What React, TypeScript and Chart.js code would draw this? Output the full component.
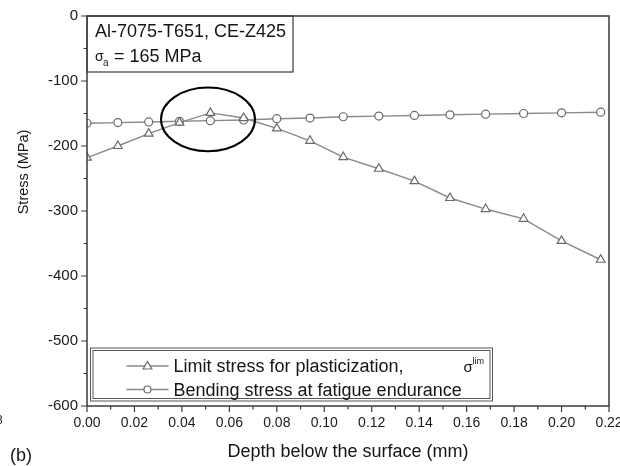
import { useEffect, useRef } from 'react';
import { Chart, registerables } from 'chart.js';

Chart.register(...registerables);

// ---- data ----
const depth = [0, 0.013, 0.026, 0.039, 0.052, 0.066, 0.080, 0.094, 0.108, 0.123, 0.138, 0.153, 0.168, 0.184, 0.200, 0.2165];
const limitStress = [-218, -200, -181, -164, -149, -157, -173, -192, -217, -235, -254, -280, -297, -312, -346, -375];
const bendingStress = [-165, -164, -163, -162, -161, -160, -158, -157, -155, -154, -153, -152, -151, -150, -149, -148];

const xTicks = [0, 0.02, 0.04, 0.06, 0.08, 0.1, 0.12, 0.14, 0.16, 0.18, 0.2, 0.22];
const yTicks = [0, -100, -200, -300, -400, -500, -600];

const seriesNames = ['Limit stress for plasticization,', 'Bending stress at fatigue endurance'];
const infoLine1 = 'Al-7075-T651, CE-Z425';
const infoLine2 = ' = 165 MPa';
const xTitle = 'Depth below the surface (mm)';
const yTitle = 'Stress (MPa)';
const panelLabel = '(b)';
// highlighted region (data units)
const ellipse = { x: 0.051, y: -159, rx: 0.0198, ry: 49 };

const FONT = '"Liberation Sans", Arial, Helvetica, sans-serif';
const LINE = '#8a8a8a';
const MARK = '#6a6a6a';
const AXIS = '#3a3a3a';
const TEXT = '#151515';

function drawTriangle(ctx: CanvasRenderingContext2D, x: number, y: number, r: number) {
  ctx.beginPath();
  ctx.moveTo(x, y - r);
  ctx.lineTo(x + r * 0.866, y + r * 0.5);
  ctx.lineTo(x - r * 0.866, y + r * 0.5);
  ctx.closePath();
  ctx.fill();
  ctx.stroke();
}

const overlay = {
  id: 'overlay',
  afterDraw(chart: any) {
    const { ctx, chartArea: a, scales } = chart;
    const xs = scales.x;
    const ys = scales.y;
    ctx.save();

    // frame
    ctx.strokeStyle = AXIS;
    ctx.lineWidth = 1.5;
    ctx.strokeRect(a.left, a.top, a.right - a.left, a.bottom - a.top);

    // ticks (major + minor), outward
    ctx.lineWidth = 1.2;
    ctx.beginPath();
    xTicks.forEach((v, i) => {
      const px = xs.getPixelForValue(v);
      ctx.moveTo(px, a.bottom);
      ctx.lineTo(px, a.bottom + 6);
      if (i < xTicks.length - 1) {
        const m = xs.getPixelForValue((v + xTicks[i + 1]) / 2);
        ctx.moveTo(m, a.bottom);
        ctx.lineTo(m, a.bottom + 3.5);
      }
    });
    yTicks.forEach((v, i) => {
      const py = ys.getPixelForValue(v);
      ctx.moveTo(a.left, py);
      ctx.lineTo(a.left - 6, py);
      if (i < yTicks.length - 1) {
        const m = ys.getPixelForValue((v + yTicks[i + 1]) / 2);
        ctx.moveTo(a.left, m);
        ctx.lineTo(a.left - 3.5, m);
      }
    });
    ctx.stroke();

    // ellipse highlight
    const cx = xs.getPixelForValue(ellipse.x);
    const cy = ys.getPixelForValue(ellipse.y);
    const rx = xs.getPixelForValue(ellipse.x + ellipse.rx) - cx;
    const ry = ys.getPixelForValue(ellipse.y - ellipse.ry) - cy;
    ctx.beginPath();
    ctx.ellipse(cx, cy, Math.abs(rx), Math.abs(ry), 0, 0, Math.PI * 2);
    ctx.strokeStyle = '#000';
    ctx.lineWidth = 2;
    ctx.stroke();

    // info box
    ctx.strokeStyle = AXIS;
    ctx.lineWidth = 1.2;
    ctx.strokeRect(a.left, a.top, 206, 56);
    ctx.fillStyle = TEXT;
    ctx.textBaseline = 'alphabetic';
    ctx.textAlign = 'left';
    ctx.font = `18px ${FONT}`;
    ctx.fillText(infoLine1, a.left + 8, a.top + 21);
    ctx.font = `14px ${FONT}`;
    ctx.fillText('σ', a.left + 8, a.top + 45);
    ctx.font = `10px ${FONT}`;
    ctx.fillText('a', a.left + 16, a.top + 50);
    ctx.font = `18px ${FONT}`;
    ctx.fillText(infoLine2, a.left + 22, a.top + 46);

    // legend box (double border)
    const lx = a.left + 3.5;
    const lyTop = a.bottom - 58;
    const lw = 402;
    const lh = 53;
    ctx.strokeStyle = '#555';
    ctx.lineWidth = 1;
    ctx.strokeRect(lx, lyTop, lw, lh);
    ctx.strokeRect(lx + 2.5, lyTop + 2.5, lw - 5, lh - 5);

    const rows = [lyTop + 18, lyTop + 41.5];
    rows.forEach((ry0, i) => {
      ctx.strokeStyle = LINE;
      ctx.lineWidth = 1.4;
      ctx.beginPath();
      ctx.moveTo(lx + 36, ry0);
      ctx.lineTo(lx + 78, ry0);
      ctx.stroke();
      ctx.fillStyle = '#fff';
      ctx.strokeStyle = MARK;
      ctx.lineWidth = 1.2;
      const mx = lx + 57;
      if (i === 0) {
        drawTriangle(ctx, mx, ry0 + 0.5, 5);
      } else {
        ctx.beginPath();
        ctx.arc(mx, ry0, 3.5, 0, Math.PI * 2);
        ctx.fill();
        ctx.stroke();
      }
      ctx.fillStyle = TEXT;
      ctx.font = `18px ${FONT}`;
      const tx = lx + 83;
      ctx.fillText(seriesNames[i], tx, ry0 + 6);
      if (i === 0) {
        // sigma with "lim" superscript, set at the far end of the legend line
        ctx.font = `15px ${FONT}`;
        ctx.fillText('σ', lx + 373, ry0 + 6);
        ctx.font = `9px ${FONT}`;
        ctx.fillText('lim', lx + 382, ry0 - 2);
      }
    });

    // axis titles
    ctx.fillStyle = TEXT;
    ctx.font = `18px ${FONT}`;
    ctx.textAlign = 'center';
    ctx.fillText(xTitle, (a.left + a.right) / 2, a.bottom + 51);
    ctx.save();
    ctx.translate(24, 172);
    ctx.rotate(-Math.PI / 2);
    ctx.font = `14.5px ${FONT}`;
    ctx.textBaseline = 'middle';
    ctx.fillText(yTitle, 0, 0);
    ctx.restore();

    // panel label and cropped stray glyph
    ctx.textAlign = 'left';
    ctx.textBaseline = 'alphabetic';
    ctx.font = `18px ${FONT}`;
    ctx.fillText(panelLabel, 10, 461);
    ctx.font = `12px ${FONT}`;
    ctx.fillText('8', -4, 424);

    ctx.restore();
  },
};

export default function App() {
  const ref = useRef<HTMLCanvasElement | null>(null);

  useEffect(() => {
    if (!ref.current) return;
    const chart = new Chart(ref.current, {
      type: 'line',
      data: {
        datasets: [
          {
            label: seriesNames[0],
            data: depth.map((d, i) => ({ x: d, y: limitStress[i] })),
            borderColor: LINE,
            borderWidth: 1.4,
            pointStyle: 'triangle',
            pointRadius: 5,
            pointBackgroundColor: '#fff',
            pointBorderColor: MARK,
            pointBorderWidth: 1.2,
            tension: 0,
          },
          {
            label: seriesNames[1],
            data: depth.map((d, i) => ({ x: d, y: bendingStress[i] })),
            borderColor: LINE,
            borderWidth: 1.4,
            pointStyle: 'circle',
            pointRadius: 4,
            pointBackgroundColor: '#fff',
            pointBorderColor: MARK,
            pointBorderWidth: 1.2,
            tension: 0,
          },
        ],
      },
      options: {
        responsive: false,
        animation: false,
        devicePixelRatio: 1,
        layout: { padding: { top: 16, right: 11, left: 0, bottom: 0 } },
        plugins: { legend: { display: false }, tooltip: { enabled: false } },
        scales: {
          x: {
            type: 'linear',
            min: 0,
            max: 0.22,
            afterBuildTicks: (s: any) => {
              s.ticks = xTicks.map((v) => ({ value: v }));
            },
            afterFit: (s: any) => {
              s.height = 60;
              s.paddingLeft = 0;
              s.paddingRight = 0;
            },
            ticks: {
              font: { family: FONT, size: 14 },
              color: '#1a1a1a',
              padding: 3,
              maxRotation: 0,
              autoSkip: false,
              callback: (v: any) => Number(v).toFixed(2),
            },
            grid: { display: true, drawOnChartArea: false, drawTicks: true, tickLength: 6, tickColor: 'transparent', color: 'transparent' },
            border: { display: false },
          },
          y: {
            type: 'linear',
            min: -600,
            max: 0,
            afterBuildTicks: (s: any) => {
              s.ticks = yTicks.map((v) => ({ value: v }));
            },
            afterFit: (s: any) => {
              s.width = 87;
              s.paddingTop = 0;
              s.paddingBottom = 0;
            },
            ticks: {
              font: { family: FONT, size: 15 },
              color: '#1a1a1a',
              padding: 3,
              autoSkip: false,
              callback: (v: any) => String(v),
            },
            grid: { display: true, drawOnChartArea: false, drawTicks: true, tickLength: 6, tickColor: 'transparent', color: 'transparent' },
            border: { display: false },
          },
        },
      },
      plugins: [overlay],
    } as any);
    return () => chart.destroy();
  }, []);

  return (
    <div style={{ position: 'fixed', left: 0, top: 0, width: 620, height: 466, background: '#fff' }}>
      <canvas ref={ref} width={620} height={466} style={{ display: 'block' }} />
    </div>
  );
}
